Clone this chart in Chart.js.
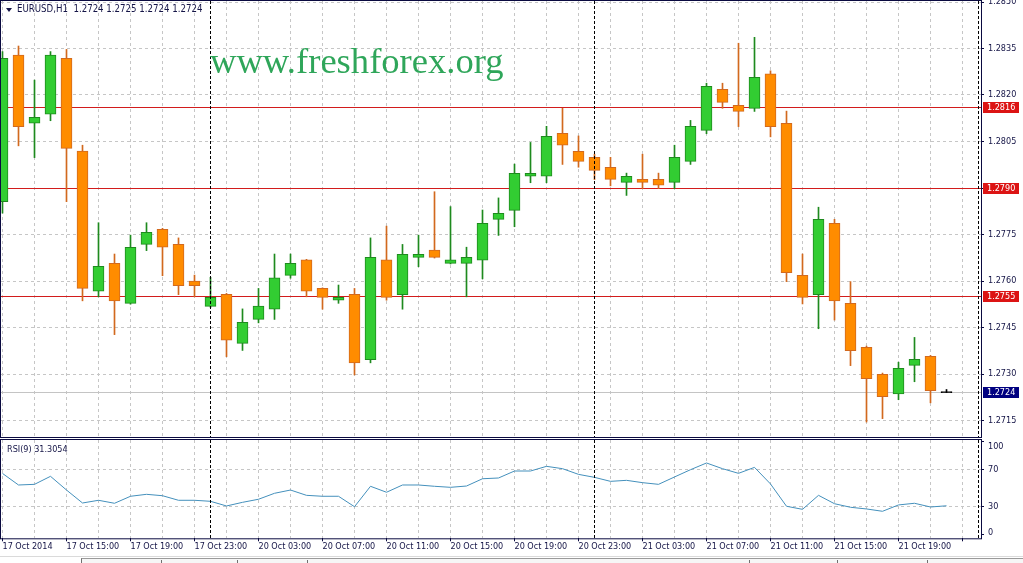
<!DOCTYPE html>
<html>
<head>
<meta charset="utf-8">
<script src="https://cdn.jsdelivr.net/npm/chart.js@4.4.1/dist/chart.umd.min.js"></script>
<style>
  html, body { margin: 0; padding: 0; background: #fff; }
  body { position: relative; width: 1023px; height: 563px; overflow: hidden;
         font-family: 'DejaVu Sans Condensed', 'Liberation Sans', sans-serif; color: #141446; }
  #mainBox { position: absolute; left: 0; top: 0; width: 1023px; height: 439px; }
  #rsiBox { position: absolute; left: 0; top: 438px; width: 1023px; height: 118px; }
  .title { position: absolute; left: 17px; top: 4px; font-size: 9.6px; line-height: 10px; white-space: pre; }
  .tri { position: absolute; left: 6px; top: 8px; width: 0; height: 0;
         border-left: 3px solid transparent; border-right: 3px solid transparent; border-top: 4px solid #141446; }
  .wm { position: absolute; left: 210px; top: 43px; font: 36.6px 'Liberation Serif', serif; line-height: 36px; color: #2fa65a; }
  .rsiLbl { position: absolute; left: 7px; top: 444px; font-size: 9px; line-height: 10px; white-space: pre; }
  .strip { position: absolute; left: 0; top: 556px; width: 1023px; height: 1px; background: #dadada; }
  .tabs { position: absolute; left: 81px; top: 558px; width: 942px; height: 5px; border-top: 1px solid #9a9a9a; border-left: 1px solid #707070; background: #f6f6f6; }
  .sep { position: absolute; top: 560px; width: 1px; height: 3px; background: #707070; }
</style>
</head>
<body>
<div id="mainBox"><canvas id="mainChart" width="1023" height="439"></canvas></div>
<div id="rsiBox"><canvas id="rsiChart" width="1023" height="118"></canvas></div>
<div class="tri"></div>
<div class="title">EURUSD,H1  1.2724 1.2725 1.2724 1.2724</div>
<div class="wm">www.freshforex.org</div>
<div class="rsiLbl">RSI(9) 31.3054</div>
<div class="strip"></div>
<div class="tabs"></div>
<div class="sep" style="left:161px"></div>
<div class="sep" style="left:237px"></div>
<div class="sep" style="left:307px"></div>
<div class="sep" style="left:749px"></div>
<div class="sep" style="left:837px"></div>
<div class="sep" style="left:927px"></div>
<script>
// EURUSD H1 candles
const opens  = [1.27856, 1.28329, 1.28109, 1.28138, 1.28318, 1.28019, 1.27567, 1.27657, 1.27528, 1.27718,
                1.27767, 1.27718, 1.27600, 1.27518, 1.27557, 1.27399, 1.27476, 1.27509, 1.27618, 1.27668,
                1.27576, 1.27538, 1.27557, 1.27346, 1.27668, 1.27556, 1.27676, 1.27700, 1.27657, 1.27657,
                1.27667, 1.27799, 1.27828, 1.27938, 1.27938, 1.28076, 1.28018, 1.27999, 1.27967, 1.27918,
                1.27928, 1.27928, 1.27918, 1.27986, 1.28086, 1.28218, 1.28167, 1.28157, 1.28268, 1.28109,
                1.27618, 1.27556, 1.27786, 1.27528, 1.27386, 1.27299, 1.27236, 1.27328, 1.27357, 1.2724];
const highs  = [1.28340, 1.28358, 1.28248, 1.28340, 1.28347, 1.28038, 1.27788, 1.27687, 1.27748, 1.27788,
                1.27770, 1.27739, 1.27619, 1.27612, 1.27560, 1.27510, 1.27576, 1.27687, 1.27687, 1.27670,
                1.27578, 1.27587, 1.27576, 1.27739, 1.27777, 1.27718, 1.27748, 1.27888, 1.27840, 1.27709,
                1.27829, 1.27868, 1.27977, 1.28047, 1.28099, 1.28157, 1.28068, 1.28009, 1.27999, 1.27948,
                1.28009, 1.27948, 1.28038, 1.28118, 1.28238, 1.28238, 1.28367, 1.28386, 1.28278, 1.28148,
                1.27687, 1.27838, 1.27799, 1.27598, 1.27390, 1.27303, 1.27338, 1.27418, 1.27360, 1.2725];
const lows   = [1.27819, 1.28036, 1.27998, 1.28117, 1.27856, 1.27536, 1.27549, 1.27427, 1.27525, 1.27698,
                1.27617, 1.27556, 1.27549, 1.27515, 1.27356, 1.27376, 1.27465, 1.27476, 1.27609, 1.27549,
                1.27509, 1.27528, 1.27297, 1.27336, 1.27538, 1.27509, 1.27646, 1.27674, 1.27655, 1.27549,
                1.27607, 1.27747, 1.27775, 1.27917, 1.27917, 1.27976, 1.27967, 1.27927, 1.27907, 1.27876,
                1.27898, 1.27898, 1.27898, 1.27976, 1.28075, 1.28157, 1.28098, 1.28147, 1.28065, 1.27598,
                1.27526, 1.27446, 1.27474, 1.27327, 1.27145, 1.27156, 1.27217, 1.27275, 1.27207, 1.2724];
const closes = [1.28318, 1.28098, 1.28128, 1.28329, 1.28028, 1.27576, 1.27647, 1.27536, 1.27709, 1.27757,
                1.27709, 1.27585, 1.27585, 1.27547, 1.27409, 1.27467, 1.27519, 1.27610, 1.27657, 1.27567,
                1.27547, 1.27547, 1.27336, 1.27676, 1.27547, 1.27686, 1.27686, 1.27676, 1.27668, 1.27676,
                1.27786, 1.27818, 1.27947, 1.27947, 1.28067, 1.28038, 1.27986, 1.27957, 1.27928, 1.27938,
                1.27918, 1.27909, 1.27999, 1.28099, 1.28228, 1.28176, 1.28147, 1.28257, 1.28098, 1.27627,
                1.27547, 1.27799, 1.27536, 1.27375, 1.27285, 1.27227, 1.27318, 1.27347, 1.27246, 1.2724];

// RSI(9)
const rsi = [66, 53.6, 54.3, 62.9, 48.2, 34.3, 37.2, 34, 41.5, 43.6,
             42.1, 37.2, 37.2, 36.1, 31.1, 35, 38.3, 44.7, 48.2, 42.5,
             41.5, 41.5, 30.3, 52.2, 45.8, 53.6, 53.6, 52.2, 51.1, 52.5,
             60.3, 61.1, 68.6, 68.6, 73.6, 71.1, 65, 61.8, 57.5, 58.6,
             56.1, 54.3, 62.2, 70, 77.2, 71.1, 66.1, 72.5, 54.7, 30.8,
             27.5, 42.5, 33.5, 29.7, 27.9, 25.4, 32.2, 34, 30, 31.3];

// axis labels (one every 4 bars) and day separators (bar index)
const xTickLabels = ['17 Oct 2014', '17 Oct 15:00', '17 Oct 19:00', '17 Oct 23:00', '20 Oct 03:00',
                     '20 Oct 07:00', '20 Oct 11:00', '20 Oct 15:00', '20 Oct 19:00', '20 Oct 23:00',
                     '21 Oct 03:00', '21 Oct 07:00', '21 Oct 11:00', '21 Oct 15:00', '21 Oct 19:00'];
const dayStarts = [13, 37, 61];
const priceTicks = [1.2715, 1.2730, 1.2745, 1.2760, 1.2775, 1.2790, 1.2805, 1.2820, 1.2835, 1.2850];
const levels = [1.2816, 1.2790, 1.2755];
const lastPrice = 1.2724;
const rsiTicks = [0, 30, 70, 100];
const rsiLevels = [30, 70];

// look
const fontFam = "'DejaVu Sans Condensed', 'Liberation Sans', sans-serif";
const txt = '#141446';
const navy = '#0a0a40';
const gridCol = '#c6c6c6';
const upFill = '#32cd32', upEdge = '#1e8a1e';
const dnFill = '#ff8c00', dnEdge = '#d2691e';
const xMin = -0.09375, xMax = 61.15625;
const yMax = 1.2850 + 1 / 31000, yMin = yMax - 436 / 31000;

const idx = opens.map((_, i) => i);
const dir = idx.map(i => closes[i] > opens[i] ? 1 : (closes[i] < opens[i] ? -1 : 0));
const bodyFill = dir.map(d => d > 0 ? upFill : (d < 0 ? dnFill : '#000'));
const edgeCol = dir.map(d => d > 0 ? upEdge : (d < 0 ? dnEdge : '#000'));

const gridTicks = [];
for (let v = 0; v <= 60; v += 2) gridTicks.push(v);

// frame + dashed day separators, both panels
const framePlugin = {
  id: 'frame',
  afterDraw(chart) {
    const { ctx, chartArea: a, scales: { x } } = chart;
    ctx.save();
    ctx.lineWidth = 1;
    ctx.strokeStyle = '#000';
    ctx.setLineDash([3, 2]);
    dayStarts.forEach(d => {
      const px = Math.floor(x.getPixelForValue(d)) + 0.5;
      ctx.beginPath();
      ctx.moveTo(px, a.top);
      ctx.lineTo(px, a.bottom);
      ctx.stroke();
    });
    ctx.setLineDash([]);
    ctx.strokeStyle = navy;
    ctx.strokeRect(a.left - 0.5, a.top - 0.5, a.width + 1, a.height + 1);
    ctx.restore();
  }
};

// horizontal levels and their tags on the price axis
const levelsPlugin = {
  id: 'levels',
  beforeDatasetsDraw(chart) {
    const { ctx, chartArea: a, scales: { y } } = chart;
    ctx.save();
    ctx.lineWidth = 1;
    const hline = (v, col) => {
      const py = Math.floor(y.getPixelForValue(v)) + 0.5;
      ctx.strokeStyle = col;
      ctx.beginPath();
      ctx.moveTo(a.left, py);
      ctx.lineTo(a.right, py);
      ctx.stroke();
    };
    hline(lastPrice, '#c4c4c4');
    levels.forEach(v => hline(v, '#d21c1c'));
    ctx.restore();
  },
  afterDraw(chart) {
    const { ctx, chartArea: a, scales: { y } } = chart;
    ctx.save();
    ctx.font = '9px ' + fontFam;
    ctx.textBaseline = 'middle';
    const tag = (v, bg) => {
      const py = Math.floor(y.getPixelForValue(v));
      ctx.fillStyle = bg;
      ctx.fillRect(a.right + 2, py - 5, 36, 11);
      ctx.fillStyle = '#fff';
      ctx.fillText(v.toFixed(4), a.right + 6, py + 1);
    };
    levels.forEach(v => tag(v, '#dc1414'));
    tag(lastPrice, '#000080');
    ctx.restore();
  }
};

// rsi scale labels; the outer two are nudged inside the panel like the terminal does
const rsiAxisPlugin = {
  id: 'rsiAxis',
  afterDraw(chart) {
    const { ctx, chartArea: a, scales: { y } } = chart;
    ctx.save();
    ctx.font = '9px ' + fontFam;
    ctx.fillStyle = txt;
    ctx.textBaseline = 'middle';
    rsiTicks.forEach(v => {
      const raw = y.getPixelForValue(v);
      const py = Math.min(Math.max(raw, a.top + 6.5), a.bottom - 6);
      ctx.fillText(v.toString(), a.right + 7, py);
    });
    ctx.restore();
  }
};

const fixWidth = s => { s.width = 42; s.paddingTop = 0; s.paddingBottom = 0; };

const mainChart = new Chart(document.getElementById('mainChart'), {
  type: 'bar',
  data: {
    datasets: [{
      label: 'body',
      data: idx.map(i => ({ x: i, y: [opens[i], closes[i]] })),
      backgroundColor: bodyFill,
      borderColor: edgeCol,
      borderWidth: 1,
      borderSkipped: false,
      barThickness: 11,
      minBarLength: 1,
      grouped: false,
      order: 0
    }, {
      label: 'wick',
      data: idx.map(i => ({ x: i, y: [lows[i], highs[i]] })),
      backgroundColor: edgeCol,
      borderWidth: 0,
      barThickness: 1,
      grouped: false,
      order: 1
    }]
  },
  options: {
    responsive: false,
    animation: false,
    events: [],
    layout: { padding: { left: 1, top: 1, right: 0, bottom: 2 } },
    plugins: { legend: { display: false }, tooltip: { enabled: false } },
    scales: {
      x: {
        type: 'linear', min: xMin, max: xMax, offset: false,
        afterBuildTicks: s => { s.ticks = gridTicks.map(v => ({ value: v })); },
        afterFit: s => { s.height = 0; s.paddingLeft = 0; s.paddingRight = 0; },
        ticks: { display: false },
        grid: { color: gridCol, drawTicks: false, offset: false },
        border: { display: false, dash: [3, 3] }
      },
      y: {
        position: 'right', min: yMin, max: yMax,
        afterBuildTicks: s => { s.ticks = priceTicks.map(v => ({ value: v })); },
        afterFit: fixWidth,
        ticks: { padding: 4, color: txt, font: { family: fontFam, size: 9 }, callback: v => v.toFixed(4) },
        grid: { color: gridCol, tickColor: navy, tickLength: 3, tickBorderDash: [] },
        border: { display: false, dash: [3, 3] }
      }
    }
  },
  plugins: [levelsPlugin, framePlugin]
});

const rsiChart = new Chart(document.getElementById('rsiChart'), {
  type: 'line',
  data: {
    datasets: [{
      label: 'RSI(9)',
      data: idx.map(i => ({ x: i, y: rsi[i] })),
      borderColor: '#4490bc',
      borderWidth: 1,
      pointRadius: 0,
      tension: 0
    }]
  },
  options: {
    responsive: false,
    animation: false,
    events: [],
    layout: { padding: { left: 1, top: 2, right: 0, bottom: 0 } },
    plugins: { legend: { display: false }, tooltip: { enabled: false } },
    scales: {
      x: {
        type: 'linear', min: xMin, max: xMax, offset: false,
        afterBuildTicks: s => { s.ticks = gridTicks.map(v => ({ value: v })); },
        afterFit: s => { s.height = 17.7; s.paddingLeft = 0; s.paddingRight = 0; },
        ticks: {
          align: 'start', maxRotation: 0, autoSkip: false, padding: 0,
          color: txt, font: { family: fontFam, size: 9 },
          callback: v => (v % 4 === 0 && xTickLabels[v / 4]) || ''
        },
        grid: {
          color: gridCol, tickLength: 3, tickBorderDash: [],
          tickColor: c => (c.tick && c.tick.value % 4 === 0) ? navy : 'rgba(0,0,0,0)'
        },
        border: { display: false, dash: [3, 3] }
      },
      y: {
        position: 'right', min: -3.57, max: 101.85,
        afterBuildTicks: s => { s.ticks = rsiTicks.map(v => ({ value: v })); },
        afterFit: fixWidth,
        ticks: { display: false },
        grid: {
          color: c => (c.tick && rsiLevels.includes(c.tick.value)) ? gridCol : 'rgba(0,0,0,0)',
          tickColor: navy, tickLength: 3, tickBorderDash: []
        },
        border: { display: false, dash: [3, 3] }
      }
    }
  },
  plugins: [framePlugin, rsiAxisPlugin]
});
</script>
</body>
</html>
